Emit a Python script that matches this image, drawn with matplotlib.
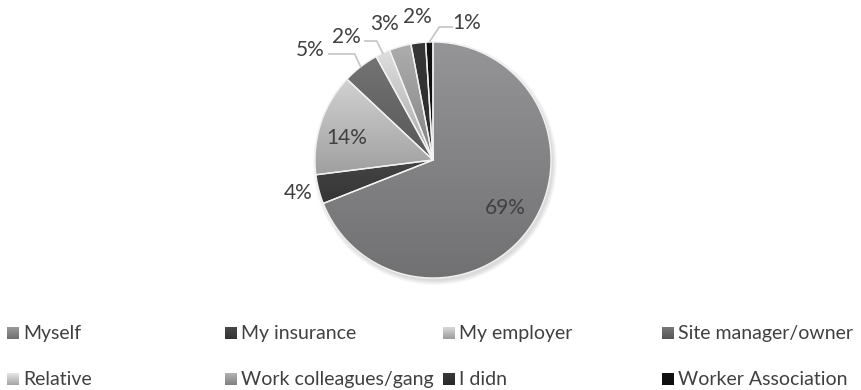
import numpy as np
import matplotlib.pyplot as plt
from matplotlib.patches import Circle
from matplotlib.colors import to_rgb

categories = ["Myself", "My insurance", "My employer", "Site manager/owner",
              "Relative", "Work colleagues/gang", "I didn", "Worker Association"]
shares = [69, 4, 14, 5, 2, 3, 2, 1]
colors = ["#8a8a8c", "#404040", "#c2c2c2", "#6b6b6b",
          "#cdcdcd", "#a0a0a0", "#333333", "#111111"]

# label placement (pixels, relative to pie centre) and whether a leader line is drawn
label_pos = [(72, 48), (-135, 33), (-86, -22), (-123, -110),
             (-87, -123), (-48, -136), (-16, -143), (34, -137)]
leader = [False, False, False, True, True, False, False, True]

plt.rcParams['font.family'] = ['Lato', 'DejaVu Sans']

W, H = 862, 390
fig = plt.figure(figsize=(W / 100, H / 100), dpi=100)
ax = fig.add_axes([0, 0, 1, 1])
ax.axis('off')

cx, cy, R = 433, 160, 118


def shade(col, top=1.08, bottom=0.82, n=64):
    base = np.array(to_rgb(col))
    g = np.linspace(top, bottom, n)[:, None, None] * base[None, None, :]
    return np.clip(g, 0, 1)


# soft shadow under the pie
for i in range(6):
    ax.add_patch(Circle((cx + 2, cy + 3), R + 4 - i * 0.8, color='black',
                        alpha=0.025, lw=0, zorder=1))

# wedges, clockwise from the top; y axis points down so angles are negated
start = 90.0
mids = []
total = float(sum(shares))
for val, col in zip(shares, colors):
    sweep = 360.0 * val / total
    a1 = start - sweep
    th = np.radians(np.linspace(a1, start, 120))
    xs = np.concatenate([[cx], cx + R * np.cos(th), [cx]])
    ys = np.concatenate([[cy], cy - R * np.sin(th), [cy]])
    poly = ax.fill(xs, ys, color=col, lw=0, zorder=2)[0]
    im = ax.imshow(shade(col), extent=(xs.min(), xs.max(), ys.max(), ys.min()),
                   aspect='auto', zorder=3, interpolation='bilinear')
    im.set_clip_path(poly)
    ax.plot(xs, ys, color='#f2f2f2', lw=1.0, zorder=4, solid_joinstyle='miter')
    mids.append((start + a1) / 2)
    start = a1

for val, mid, (dx, dy), has_line in zip(shares, mids, label_pos, leader):
    tx, ty = cx + dx, cy + dy
    ax.text(tx, ty, f"{val}%", ha='center', va='center', fontsize=15,
            color='#404040', zorder=6)
    if has_line:
        ex = cx + R * np.cos(np.radians(mid))
        ey = cy - R * np.sin(np.radians(mid))
        if dx < 0:
            lx = tx + 19
            elbow = ex - 6
        else:
            lx = tx - 15
            elbow = ex + 10
        ax.plot([lx, elbow, ex], [ty + 4, ty + 4, ey], color='#c8c8c8',
                lw=1.3, zorder=5)

# legend grid (y values are text baselines)
col_x = [7, 225, 443, 662]
row_y = [339, 385]
for i, (name, col) in enumerate(zip(categories, colors)):
    x = col_x[i % 4]
    y = row_y[i // 4]
    ax.imshow(shade(col, 1.12, 0.8), extent=(x, x + 12, y, y - 12),
              aspect='auto', zorder=6, interpolation='bilinear')
    ax.text(x + 16, y, name, ha='left', va='baseline', fontsize=14,
            color='#404040', zorder=6)

ax.set_xlim(0, W)
ax.set_ylim(H, 0)

fig.savefig("out.png", dpi=100)
